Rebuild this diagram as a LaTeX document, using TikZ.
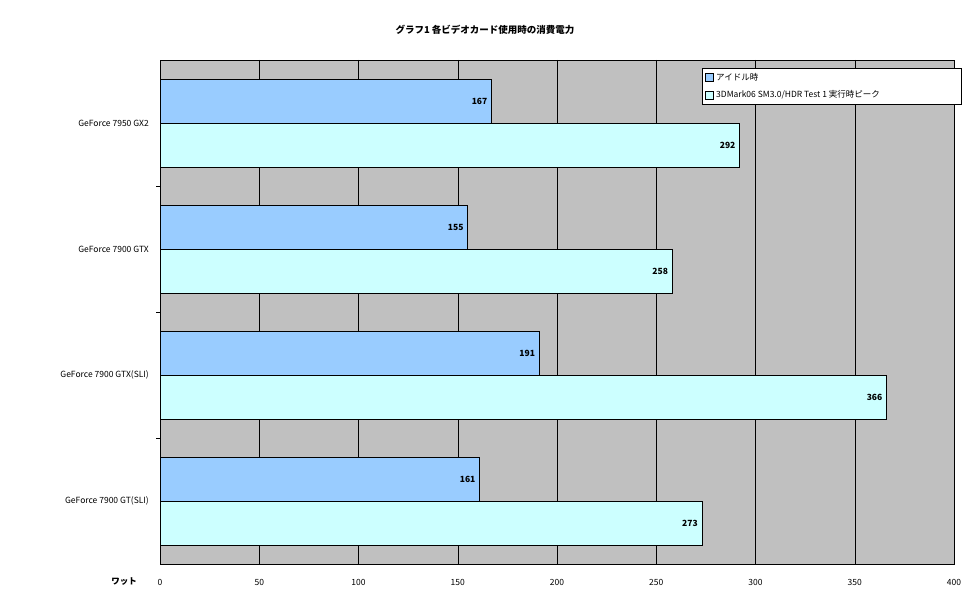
\documentclass[tikz,border=0pt]{standalone}
\usepackage{fontspec}
\setmainfont{Noto Sans CJK JP}
\begin{document}
\begin{tikzpicture}[x=1pt,y=-1pt,font=\fontsize{8.5}{10}\selectfont,
  idle/.style={draw=black,fill=idlec},
  peak/.style={draw=black,fill=peakc},
  val/.style={font=\fontsize{8.5}{10}\selectfont\bfseries,anchor=east,inner sep=1pt},
  cat/.style={anchor=east,inner sep=1pt}]
\definecolor{idlec}{HTML}{99CCFF}
\definecolor{peakc}{HTML}{CCFFFF}
\definecolor{bg}{HTML}{C0C0C0}
\useasboundingbox (0,0) rectangle (970,604);
\fill[white] (0,0) rectangle (970,604);
\fill[bg] (160,60) rectangle (954,564);
\foreach \v in {50,100,...,350} \draw (160+\v*1.985,60) -- (160+\v*1.985,564);
\draw (160,60) rectangle (954,564);
\foreach \yy in {186,312,438} \draw (156,\yy) -- (160,\yy);
\node[font=\fontsize{9.5}{11}\selectfont\bfseries] (title) at (485,30) {グラフ1 各ビデオカード使用時の消費電力};
\foreach \i/\name/\a/\b in {0/GeForce 7950 GX2/167/292,1/GeForce 7900 GTX/155/258,2/GeForce 7900 GTX(SLI)/191/366,3/GeForce 7900 GT(SLI)/161/273}{
  \pgfmathsetmacro\t{60+126*\i}
  \draw[idle] (160,\t+19) rectangle (160+\a*1.985,\t+63);
  \draw[peak] (160,\t+63) rectangle (160+\b*1.985,\t+107);
  \node[val] (ia\i) at (160+\a*1.985-3,\t+41) {\a};
  \node[val] (pb\i) at (160+\b*1.985-3,\t+85) {\b};
  \node[cat] (c\i) at (150,\t+63) {\name};
}
\foreach \v in {0,50,...,400} \node (t\v) at (160+\v*1.985,582) {\v};
\node[font=\fontsize{8.5}{10}\selectfont\bfseries] (unit) at (124,582) {ワット};
\draw[fill=white] (702,68) rectangle (961,104);
\draw[fill=idlec] (705,73) rectangle (713,81);
\node[anchor=west,inner sep=1pt] (l1) at (715,77) {アイドル時};
\draw[fill=peakc] (705,91) rectangle (713,99);
\node[anchor=west,inner sep=1pt] (l2) at (715,95) {3DMark06 SM3.0/HDR Test 1 実行時ピーク};
\end{tikzpicture}
\end{document}
